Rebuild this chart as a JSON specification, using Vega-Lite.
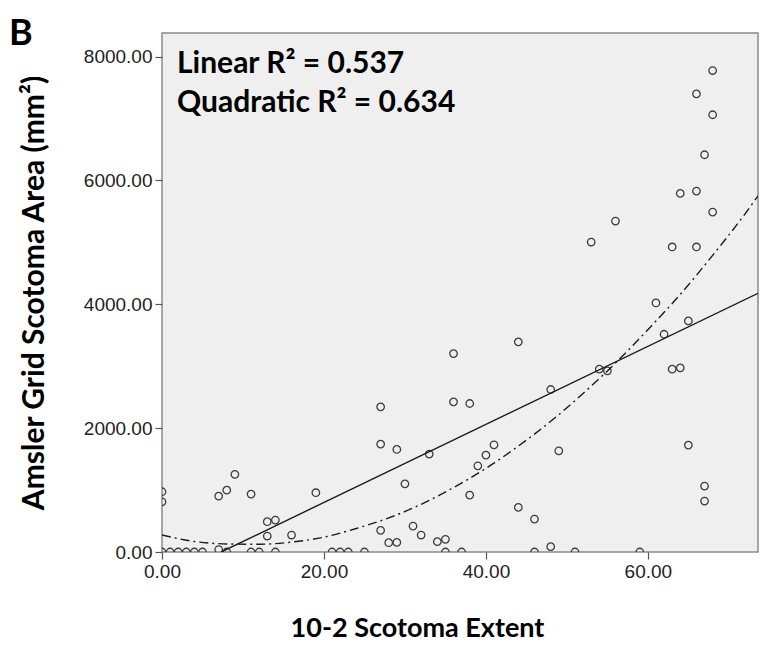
{
  "$schema": "https://vega.github.io/schema/vega-lite/v6.json",
  "width": 596,
  "height": 519,
  "autosize": "none",
  "padding": {"left": 162, "top": 33, "right": 3, "bottom": 93},
  "background": "white",
  "config": {
    "view": {"fill": "#efefef", "stroke": "#8a8a8a", "strokeWidth": 1.5},
    "font": "Liberation Sans"
  },
  "title": {
    "text": "B",
    "anchor": "start",
    "frame": "group",
    "font": "Lato",
    "fontSize": 36,
    "fontWeight": "bold",
    "color": "black",
    "baseline": "alphabetic",
    "dx": -153,
    "dy": 48,
    "offset": 0
  },
  "datasets": {
    "points": [
      {"extent": 0, "area": 973}, {"extent": 0, "area": 811},
      {"extent": 0, "area": 0}, {"extent": 1, "area": 0}, {"extent": 2, "area": 0},
      {"extent": 3, "area": 0}, {"extent": 4, "area": 0}, {"extent": 5, "area": 0},
      {"extent": 7, "area": 40}, {"extent": 8, "area": 0},
      {"extent": 7, "area": 903}, {"extent": 8, "area": 1000}, {"extent": 9, "area": 1253},
      {"extent": 11, "area": 935}, {"extent": 11, "area": 0}, {"extent": 12, "area": 0},
      {"extent": 14, "area": 0}, {"extent": 13, "area": 489}, {"extent": 14, "area": 516},
      {"extent": 13, "area": 258}, {"extent": 16, "area": 274}, {"extent": 19, "area": 957},
      {"extent": 21, "area": 0}, {"extent": 22, "area": 0}, {"extent": 23, "area": 0},
      {"extent": 25, "area": 0}, {"extent": 27, "area": 2344}, {"extent": 27, "area": 1742},
      {"extent": 29, "area": 1656}, {"extent": 30, "area": 1100}, {"extent": 27, "area": 350},
      {"extent": 28, "area": 150}, {"extent": 29, "area": 155}, {"extent": 31, "area": 419},
      {"extent": 32, "area": 274}, {"extent": 33, "area": 1581}, {"extent": 34, "area": 167},
      {"extent": 35, "area": 205}, {"extent": 35, "area": 0}, {"extent": 36, "area": 3204},
      {"extent": 36, "area": 2425}, {"extent": 37, "area": 0}, {"extent": 38, "area": 2398},
      {"extent": 38, "area": 919}, {"extent": 39, "area": 1392}, {"extent": 40, "area": 1565},
      {"extent": 41, "area": 1731}, {"extent": 44, "area": 3392}, {"extent": 44, "area": 720},
      {"extent": 46, "area": 532}, {"extent": 46, "area": 0}, {"extent": 48, "area": 2624},
      {"extent": 48, "area": 86}, {"extent": 49, "area": 1634}, {"extent": 51, "area": 0},
      {"extent": 53, "area": 5005}, {"extent": 54, "area": 2952}, {"extent": 55, "area": 2925},
      {"extent": 56, "area": 5344}, {"extent": 59, "area": 0}, {"extent": 61, "area": 4021},
      {"extent": 62, "area": 3516}, {"extent": 63, "area": 2952}, {"extent": 63, "area": 4925},
      {"extent": 64, "area": 2973}, {"extent": 64, "area": 5790}, {"extent": 65, "area": 3731},
      {"extent": 65, "area": 1726}, {"extent": 66, "area": 7398}, {"extent": 66, "area": 5828},
      {"extent": 66, "area": 4925}, {"extent": 67, "area": 6414}, {"extent": 67, "area": 1065},
      {"extent": 67, "area": 823}, {"extent": 68, "area": 7774}, {"extent": 68, "area": 7060},
      {"extent": 68, "area": 5489}
    ],
    "linearFit": [
      {"extent": 7.3, "area": 0},
      {"extent": 73.6, "area": 4177}
    ],
    "quadraticFit": [
      {"extent": 0, "area": 274}, {"extent": 4, "area": 170}, {"extent": 8, "area": 130},
      {"extent": 12, "area": 125}, {"extent": 16, "area": 160}, {"extent": 20, "area": 240},
      {"extent": 24, "area": 380}, {"extent": 28, "area": 550}, {"extent": 32, "area": 770},
      {"extent": 36, "area": 1040}, {"extent": 40, "area": 1350}, {"extent": 44, "area": 1710},
      {"extent": 48, "area": 2110}, {"extent": 52, "area": 2560}, {"extent": 56, "area": 3050},
      {"extent": 60, "area": 3590}, {"extent": 64, "area": 4160}, {"extent": 68, "area": 4790},
      {"extent": 72, "area": 5460}, {"extent": 73.6, "area": 5750}
    ]
  },
  "layer": [
    {
      "data": {"name": "points"},
      "mark": {"type": "point", "shape": "circle", "filled": false, "size": 56, "stroke": "#3d3d3d", "strokeWidth": 1.3, "opacity": 1, "clip": true},
      "encoding": {
        "x": {
          "field": "extent",
          "type": "quantitative",
          "scale": {"domain": [0, 73.6], "nice": false, "zero": false},
          "axis": {
            "title": "10-2 Scotoma Extent",
            "values": [0, 20, 40, 60],
            "format": ".2f",
            "grid": false,
            "domain": false,
            "tickSize": 7,
            "tickColor": "#555",
            "tickWidth": 1.2,
            "labelFontSize": 19,
            "labelColor": "#222",
            "labelPadding": 3,
            "labelFlush": false,
            "titleFont": "Lato",
            "titleFontSize": 27,
            "titleFontWeight": "bold",
            "titleColor": "black",
            "titlePadding": 34,
            "titleX": 255
          }
        },
        "y": {
          "field": "area",
          "type": "quantitative",
          "scale": {"domain": [0, 8380], "nice": false, "zero": false},
          "axis": {
            "title": "Amsler Grid Scotoma Area (mm²)",
            "values": [0, 2000, 4000, 6000, 8000],
            "format": ".2f",
            "grid": false,
            "domain": false,
            "tickSize": 7,
            "tickColor": "#555",
            "tickWidth": 1.2,
            "labelFontSize": 19,
            "labelColor": "#222",
            "labelPadding": 3,
            "labelFlush": false,
            "titleFont": "Lato",
            "titleFontSize": 30,
            "titleFontWeight": "bold",
            "titleColor": "black",
            "titlePadding": 34
          }
        }
      }
    },
    {
      "data": {"name": "linearFit"},
      "mark": {"type": "line", "color": "#1a1a1a", "strokeWidth": 1.4, "clip": true},
      "encoding": {
        "x": {"field": "extent", "type": "quantitative"},
        "y": {"field": "area", "type": "quantitative"}
      }
    },
    {
      "data": {"name": "quadraticFit"},
      "mark": {"type": "line", "color": "#1a1a1a", "strokeWidth": 1.4, "strokeDash": [9, 4, 2, 4], "interpolate": "monotone", "clip": true},
      "encoding": {
        "x": {"field": "extent", "type": "quantitative"},
        "y": {"field": "area", "type": "quantitative"}
      }
    },
    {
      "data": {"values": [{"label": "Linear R² = 0.537"}]},
      "mark": {"type": "text", "font": "Lato", "fontSize": 30, "fontWeight": "bold", "color": "black", "align": "left", "baseline": "alphabetic"},
      "encoding": {
        "text": {"field": "label", "type": "nominal"},
        "x": {"datum": 1.85},
        "y": {"datum": 7738}
      }
    },
    {
      "data": {"values": [{"label": "Quadratic R² = 0.634"}]},
      "mark": {"type": "text", "font": "Lato", "fontSize": 30, "fontWeight": "bold", "color": "black", "align": "left", "baseline": "alphabetic"},
      "encoding": {
        "text": {"field": "label", "type": "nominal"},
        "x": {"datum": 1.85},
        "y": {"datum": 7108}
      }
    }
  ]
}
